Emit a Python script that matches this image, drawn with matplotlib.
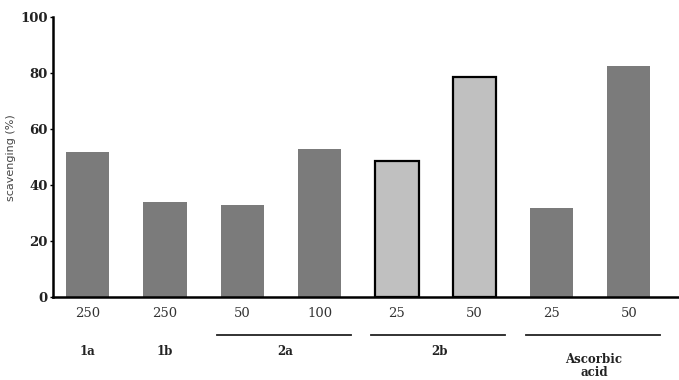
import matplotlib
matplotlib.use("Agg")
from matplotlib import pyplot as plt

doses = ["250", "250", "50", "100", "25", "50", "25", "50"]
scavenging = [52, 34, 33, 53, 48.5, 78.5, 32, 82.5]
is_2b = [False, False, False, False, True, True, False, False]

single_groups = ["1a", "1b"]
single_pos = [0, 1]
multi_groups = ["2a", "2b", "Ascorbic\nacid"]
multi_pos = [(2, 3), (4, 5), (6, 7)]

DARK = "#7b7b7b"
LIGHT = "#c0c0c0"
SERIF = "DejaVu Serif"


def main():
    fig = plt.figure(figsize=(6.79, 3.80), dpi=100)
    ax = fig.add_axes([0.078, 0.218, 0.922, 0.737])

    x = list(range(len(scavenging)))
    colors = [LIGHT if f else DARK for f in is_2b]
    edges = ["black" if f else DARK for f in is_2b]
    lws = [1.6 if f else 0 for f in is_2b]
    ax.bar(x, scavenging, width=0.56, color=colors, edgecolor=edges, linewidth=lws)

    ax.set_xlim(-0.45, 7.65)
    ax.set_ylim(0, 100)
    ax.set_yticks([0, 20, 40, 60, 80, 100])
    ax.set_yticklabels(["0", "20", "40", "60", "80", "100"],
                       fontfamily=SERIF, fontweight="bold", fontsize=9.5, color="#222222")
    ax.set_xticks(x)
    ax.set_xticklabels(doses, fontfamily=SERIF, fontsize=9.5, color="#333333")
    ax.tick_params(axis="x", length=0, pad=7)
    ax.tick_params(axis="y", length=2, width=1, pad=2)

    for side in ["top", "right"]:
        ax.spines[side].set_visible(False)
    ax.spines["left"].set_linewidth(1.8)
    ax.spines["bottom"].set_linewidth(1.8)

    ax.set_ylabel("scavenging (%)", fontsize=8, color="#444444", labelpad=3)

    trans = ax.get_xaxis_transform()
    for name, p in zip(single_groups, single_pos):
        ax.text(p, -0.17, name, transform=trans, ha="center", va="top",
                fontfamily=SERIF, fontweight="bold", fontsize=8.5, color="#222222")
    for name, (a, b) in zip(multi_groups, multi_pos):
        ax.plot([a - 0.33, b + 0.4], [-0.135, -0.135], transform=trans,
                color="#222222", lw=1.3, clip_on=False)
        y = -0.2 if "\n" in name else -0.17
        ax.text((a + b) / 2 + 0.05, y, name, transform=trans, ha="center", va="top",
                fontfamily=SERIF, fontweight="bold", fontsize=8.5, color="#222222",
                linespacing=1.0)

    fig.savefig("out.png", dpi=100)


if __name__ == "__main__":
    main()
